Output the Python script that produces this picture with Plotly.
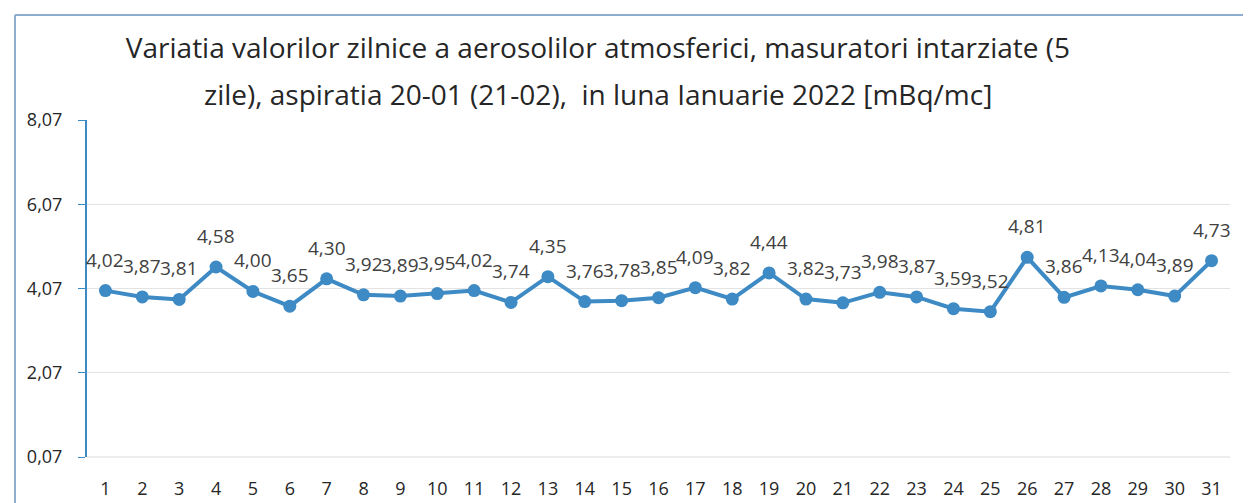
import plotly.graph_objects as go

days = list(range(1, 32))
values = [4.02, 3.87, 3.81, 4.58, 4.00, 3.65, 4.30, 3.92, 3.89, 3.95, 4.02, 3.74, 4.35,
          3.76, 3.78, 3.85, 4.09, 3.82, 4.44, 3.82, 3.73, 3.98, 3.87, 3.59, 3.52, 4.81,
          3.86, 4.13, 4.04, 3.89, 4.73]
y_ticks = [0.07, 2.07, 4.07, 6.07, 8.07]
y_tick_text = ["0,07", "2,07", "4,07", "6,07", "8,07"]
title_line1 = "Variatia valorilor zilnice a aerosolilor atmosferici, masuratori intarziate (5"
title_line2 = "zile), aspiratia 20-01 (21-02),  in luna Ianuarie 2022 [mBq/mc]"

line_color = "#3D8AC4"
font_family = "Open Sans, Liberation Sans, sans-serif"
text_color = "#262626"

fig = go.Figure()
fig.add_trace(go.Scatter(
    x=days, y=values, mode="lines+markers",
    line=dict(color=line_color, width=4),
    marker=dict(color=line_color, size=13),
    showlegend=False, hoverinfo="skip",
))

annotations = []
for d, v in zip(days, values):
    annotations.append(dict(
        x=d, y=v, xref="x", yref="y", text=f"{v:.2f}".replace(".", ","),
        showarrow=False, yshift=31, font=dict(size=19, color="#404040", family=font_family),
    ))
annotations.append(dict(
    x=0.447, y=1.077, xref="paper", yref="paper", xanchor="center", yanchor="middle",
    text=title_line2, showarrow=False, font=dict(size=28, color=text_color, family=font_family),
))

fig.update_layout(
    width=1251, height=503,
    margin=dict(l=79, r=29, t=112, b=54),
    paper_bgcolor="white", plot_bgcolor="white",
    title=dict(text=title_line1, x=0.447, xref="paper", xanchor="center",
               y=0.9205, yanchor="middle",
               font=dict(size=28, color=text_color, family=font_family)),
    annotations=annotations,
    font=dict(family=font_family),
    xaxis=dict(range=[0.5, 31.5], tickvals=days, showgrid=False, showline=False, ticks="",
               zeroline=False,
               tickfont=dict(size=18, color=text_color), ticklabelstandoff=19),
    yaxis=dict(range=[0.07, 8.07], tickvals=y_ticks, ticktext=y_tick_text,
               showgrid=True, gridcolor="#E3E3E3", gridwidth=1,
               showline=True, linecolor=line_color, linewidth=2,
               ticks="outside", ticklen=7, tickcolor=line_color,
               tickfont=dict(size=18, color=text_color), zeroline=False,
               ticklabelstandoff=12),
    shapes=[
        dict(type="line", xref="paper", yref="paper", x0=0, x1=1, y0=0, y1=0,
             line=dict(color="#DADADA", width=1)),
        dict(type="line", xref="paper", yref="paper", x0=-0.063, x1=-0.063, y0=-0.4, y1=1.3116,
             line=dict(color="#8EAED0", width=2), layer="below"),
        dict(type="line", xref="paper", yref="paper", x0=-0.063, x1=1.2, y0=1.3116, y1=1.3116,
             line=dict(color="#8EAED0", width=2), layer="below"),
    ],
)

fig.write_html("out.html")
